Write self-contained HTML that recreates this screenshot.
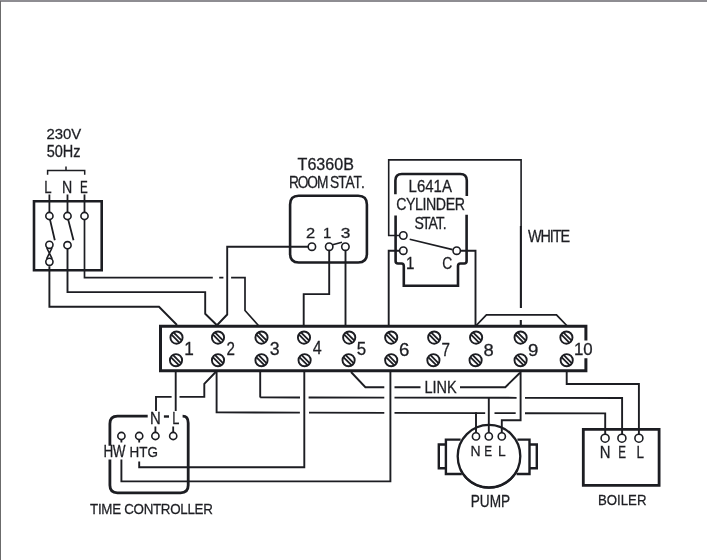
<!DOCTYPE html>
<html><head><meta charset="utf-8"><style>
html,body{margin:0;padding:0;background:#fff;}
body{width:707px;height:560px;overflow:hidden;position:relative;}
svg{position:absolute;left:0;top:0;}
text{font-kerning:none;font-feature-settings:"kern" 0;}
.tx{will-change:transform;}
</style></head><body>
<svg width="707" height="560" viewBox="0 0 707 560">
<rect x="0" y="0" width="707" height="560" fill="#fff"/>
<rect x="0" y="0" width="707" height="2" fill="#8e8d92"/>
<rect x="0" y="1" width="1" height="559" fill="#6b6b6b"/>
<g fill="none" stroke="#1c1d22" stroke-linecap="butt" stroke-linejoin="miter">
<path d="M47.6,174.8 V170.6 H84.7 V174.8 M66,170.6 V166.5" stroke-width="1.5" />
<path d="M34,201.3 H101.7 V270.3 H34 Z" stroke-width="2.6" />
<path d="M49.4,194.5 V212.2 M67.5,194.5 V212.2 M84.5,194.5 V212.2" stroke-width="1.8" />
<circle cx="49.4" cy="216" r="3.6" stroke-width="1.6"/>
<circle cx="67.5" cy="216" r="3.6" stroke-width="1.6"/>
<circle cx="84.5" cy="216" r="3.6" stroke-width="1.6"/>
<path d="M50,219.6 L54.8,240.2 M68.2,219.6 L73.5,240.2" stroke-width="1.8" />
<circle cx="49.4" cy="244.8" r="3.6" stroke-width="1.6"/>
<circle cx="67.5" cy="245.2" r="3.6" stroke-width="1.6"/>
<circle cx="49.4" cy="261.8" r="3.6" stroke-width="1.6"/>
<path d="M46.8,248 L52.2,258.8 M52,248 L46.6,258.8" stroke-width="1.6" />
<path d="M84.5,219.6 V277.6 H212.8 M219.2,277.6 H223.4" stroke-width="1.7" />
<path d="M231.1,277.6 H245 V310.5 L258.4,325.5" stroke-width="1.7" />
<path d="M67.5,248.4 V292.1 H205.2 V313.8 L216.7,325" stroke-width="1.9" />
<path d="M49.4,266.3 V306.8 H159 L177,325" stroke-width="1.9" />
<path d="M298.7,195.8 H358.2 Q366.9,195.8 366.9,204.5 V254 Q366.9,262.5 358.2,262.5 H298.7 Q290.1,262.5 290.1,254 V204.5 Q290.1,195.8 298.7,195.8 Z" stroke-width="2.6" />
<circle cx="311.9" cy="246.7" r="3.7" stroke-width="1.6"/>
<circle cx="329.2" cy="246.7" r="3.7" stroke-width="1.6"/>
<circle cx="345.4" cy="246.7" r="3.7" stroke-width="1.6"/>
<path d="M332.6,244.8 L342,242.2" stroke-width="1.6" />
<path d="M308.2,246.7 H227.2 V314.5 L217.2,325" stroke-width="1.9" />
<path d="M329.2,250.4 V294.1 H303.7 V326" stroke-width="1.9" />
<path d="M345.5,250.4 V326" stroke-width="1.9" />
<path d="M395.4,194.3 V180.5 Q395.4,174 401.9,174 H460.3 Q466.8,174 466.8,180.5 V196" stroke-width="2.6" />
<path d="M395.6,215.5 V261 Q395.6,263.5 398,263.5 H401.5 Q403.8,263.5 403.8,266 V285.7 H458 V266 Q458,263.5 460.4,263.5 H464.2 Q466.6,263.5 466.6,261 V214.7" stroke-width="2.6" />
<circle cx="403.3" cy="235.5" r="3.7" stroke-width="1.6"/>
<circle cx="403.3" cy="250.7" r="3.7" stroke-width="1.6"/>
<circle cx="456.7" cy="250.7" r="3.7" stroke-width="1.6"/>
<path d="M409.7,239.2 L452.6,249.6" stroke-width="1.6" />
<path d="M521.1,226.5 V159.9 H388.7 V235.5 H399.6" stroke-width="1.6" />
<path d="M520.9,226 V308 M520.8,320 V326" stroke-width="2.1" />
<path d="M399.6,250.7 H388.7 V326" stroke-width="1.9" />
<path d="M460.4,250.7 H475.5 V326" stroke-width="1.9" />
<path d="M585.9,340.5 V326.2 H160.5 V370.8 H585.9 V358.3" stroke-width="3.0" />
<circle cx="176.5" cy="337.6" r="6.1" stroke-width="1.9"/>
<line x1="171.26" y1="334.48" x2="179.62" y2="342.84" stroke-width="1.8"/>
<line x1="173.38" y1="332.36" x2="181.74" y2="340.72" stroke-width="1.8"/>
<circle cx="218" cy="337.6" r="6.1" stroke-width="1.9"/>
<line x1="212.76" y1="334.48" x2="221.12" y2="342.84" stroke-width="1.8"/>
<line x1="214.88" y1="332.36" x2="223.24" y2="340.72" stroke-width="1.8"/>
<circle cx="261.5" cy="337.6" r="6.1" stroke-width="1.9"/>
<line x1="256.26" y1="334.48" x2="264.62" y2="342.84" stroke-width="1.8"/>
<line x1="258.38" y1="332.36" x2="266.74" y2="340.72" stroke-width="1.8"/>
<circle cx="304" cy="337.6" r="6.1" stroke-width="1.9"/>
<line x1="298.76" y1="334.48" x2="307.12" y2="342.84" stroke-width="1.8"/>
<line x1="300.88" y1="332.36" x2="309.24" y2="340.72" stroke-width="1.8"/>
<circle cx="349.2" cy="337.6" r="6.1" stroke-width="1.9"/>
<line x1="343.96" y1="334.48" x2="352.32" y2="342.84" stroke-width="1.8"/>
<line x1="346.08" y1="332.36" x2="354.44" y2="340.72" stroke-width="1.8"/>
<circle cx="391.2" cy="337.6" r="6.1" stroke-width="1.9"/>
<line x1="385.96" y1="334.48" x2="394.32" y2="342.84" stroke-width="1.8"/>
<line x1="388.08" y1="332.36" x2="396.44" y2="340.72" stroke-width="1.8"/>
<circle cx="434.2" cy="337.6" r="6.1" stroke-width="1.9"/>
<line x1="428.96" y1="334.48" x2="437.32" y2="342.84" stroke-width="1.8"/>
<line x1="431.08" y1="332.36" x2="439.44" y2="340.72" stroke-width="1.8"/>
<circle cx="476.1" cy="337.6" r="6.1" stroke-width="1.9"/>
<line x1="470.86" y1="334.48" x2="479.22" y2="342.84" stroke-width="1.8"/>
<line x1="472.98" y1="332.36" x2="481.34" y2="340.72" stroke-width="1.8"/>
<circle cx="520.6" cy="337.6" r="6.1" stroke-width="1.9"/>
<line x1="515.36" y1="334.48" x2="523.72" y2="342.84" stroke-width="1.8"/>
<line x1="517.48" y1="332.36" x2="525.84" y2="340.72" stroke-width="1.8"/>
<circle cx="566.4" cy="337.6" r="6.1" stroke-width="1.9"/>
<line x1="561.16" y1="334.48" x2="569.52" y2="342.84" stroke-width="1.8"/>
<line x1="563.28" y1="332.36" x2="571.64" y2="340.72" stroke-width="1.8"/>
<circle cx="176" cy="360.2" r="6.1" stroke-width="1.9"/>
<line x1="170.76" y1="357.08" x2="179.12" y2="365.44" stroke-width="1.8"/>
<line x1="172.88" y1="354.96" x2="181.24" y2="363.32" stroke-width="1.8"/>
<circle cx="218" cy="360.2" r="6.1" stroke-width="1.9"/>
<line x1="212.76" y1="357.08" x2="221.12" y2="365.44" stroke-width="1.8"/>
<line x1="214.88" y1="354.96" x2="223.24" y2="363.32" stroke-width="1.8"/>
<circle cx="261.5" cy="360.2" r="6.1" stroke-width="1.9"/>
<line x1="256.26" y1="357.08" x2="264.62" y2="365.44" stroke-width="1.8"/>
<line x1="258.38" y1="354.96" x2="266.74" y2="363.32" stroke-width="1.8"/>
<circle cx="304.6" cy="360.2" r="6.1" stroke-width="1.9"/>
<line x1="299.36" y1="357.08" x2="307.72" y2="365.44" stroke-width="1.8"/>
<line x1="301.48" y1="354.96" x2="309.84" y2="363.32" stroke-width="1.8"/>
<circle cx="348.6" cy="360.2" r="6.1" stroke-width="1.9"/>
<line x1="343.36" y1="357.08" x2="351.72" y2="365.44" stroke-width="1.8"/>
<line x1="345.48" y1="354.96" x2="353.84" y2="363.32" stroke-width="1.8"/>
<circle cx="391.2" cy="360.2" r="6.1" stroke-width="1.9"/>
<line x1="385.96" y1="357.08" x2="394.32" y2="365.44" stroke-width="1.8"/>
<line x1="388.08" y1="354.96" x2="396.44" y2="363.32" stroke-width="1.8"/>
<circle cx="433.4" cy="360.2" r="6.1" stroke-width="1.9"/>
<line x1="428.16" y1="357.08" x2="436.52" y2="365.44" stroke-width="1.8"/>
<line x1="430.28" y1="354.96" x2="438.64" y2="363.32" stroke-width="1.8"/>
<circle cx="475.6" cy="360.2" r="6.1" stroke-width="1.9"/>
<line x1="470.36" y1="357.08" x2="478.72" y2="365.44" stroke-width="1.8"/>
<line x1="472.48" y1="354.96" x2="480.84" y2="363.32" stroke-width="1.8"/>
<circle cx="520.6" cy="360.2" r="6.1" stroke-width="1.9"/>
<line x1="515.36" y1="357.08" x2="523.72" y2="365.44" stroke-width="1.8"/>
<line x1="517.48" y1="354.96" x2="525.84" y2="363.32" stroke-width="1.8"/>
<circle cx="566.7" cy="360.2" r="6.1" stroke-width="1.9"/>
<line x1="561.46" y1="357.08" x2="569.82" y2="365.44" stroke-width="1.8"/>
<line x1="563.58" y1="354.96" x2="571.94" y2="363.32" stroke-width="1.8"/>
<path d="M476.2,325.5 L486.4,314.9 H556.5 L566.7,325.5" stroke-width="1.8" />
<path d="M175.7,371 V411" stroke-width="1.9" />
<path d="M215.7,372 L204.3,383.9 V396.9 H179.5" stroke-width="1.9" />
<path d="M171.6,396.9 H156 V411" stroke-width="1.9" />
<path d="M216.6,371 V412.40 L299.9,412.62" stroke-width="1.9" />
<path d="M309,412.64 L384.3,412.83 M394.5,412.86 L485.2,413.09 M494.5,413.12 L515.7,413.17 M525,413.19 L605.2,413.40 M605.2,412.50 V434.2" stroke-width="1.9" />
<path d="M260.2,371 V397.40 M260.2,397.40 L300,397.47 M308.6,397.48 L384.3,397.61 M394.5,397.62 L516.6,397.83 M525,397.84 L622.1,398.00 M622.1,397.10 V434.2" stroke-width="1.9" />
<path d="M304.3,371 V467.2 H139.2 V461.5" stroke-width="1.9" />
<path d="M351,372 L365.4,387.2 H384.3 M394.5,387.2 H420.5 M460,387.2 H505.3 L520,372.7" stroke-width="1.9" />
<path d="M390.4,371 V481.4 H121.4 V459.4" stroke-width="1.9" />
<path d="M520.6,371 V420.2 H501.8 V432.8" stroke-width="1.9" />
<path d="M566.7,371 V384 H638.9 V434.0" stroke-width="1.9" />
<path d="M147.7,416.2 H117.5 Q109.9,416.2 109.9,423.8 V445.8 M109.9,459.4 V485.3 Q109.9,492.8 117.4,492.8 H180.6 Q188.2,492.8 188.2,485.3 V423 Q188.2,416.2 182.6,416.2" stroke-width="2.8" />
<path d="M163.9,416.5 H169" stroke-width="2.4" />
<circle cx="121.4" cy="436" r="3.6" stroke-width="1.6"/>
<circle cx="139.2" cy="436" r="3.6" stroke-width="1.6"/>
<circle cx="155.4" cy="436" r="3.6" stroke-width="1.6"/>
<circle cx="173.2" cy="436" r="3.6" stroke-width="1.6"/>
<path d="M121.4,439.6 V442.6 M139.2,439.6 V442.6 M155.4,432.4 V426.5 M173.2,432.4 V426.5" stroke-width="1.8" />
<circle cx="489.0" cy="456.2" r="31.3" stroke-width="2.3"/>
<path d="M517.64,469.55 A31.6,31.6 0 0 1 460.36,469.55" stroke-width="2.0" />
<path d="M460.6,439.6 H445.9 V474 H461.8 M445.9,444.5 H438.8 V468.2 H445.9" stroke-width="2.4" />
<path d="M517.4,439.6 H529.5 V474 H516.6 M529.5,444.5 H536.8 V468.2 H529.5" stroke-width="2.4" />
<circle cx="476.0" cy="436.4" r="3.6" stroke-width="1.6"/>
<circle cx="488.8" cy="436.4" r="3.6" stroke-width="1.6"/>
<circle cx="501.8" cy="436.4" r="3.6" stroke-width="1.6"/>
<path d="M476.0,412.17 V432.8 M488.8,396.88 V432.8" stroke-width="1.9" />
<path d="M583.3,429.3 H659.1 V485.4 H583.3 Z" stroke-width="2.8" />
<circle cx="605.1" cy="438.2" r="4.0" stroke-width="1.6"/>
<circle cx="621.9" cy="438.2" r="4.0" stroke-width="1.6"/>
<circle cx="638.9" cy="438.2" r="4.0" stroke-width="1.6"/>
</g>
<g opacity="0.995">
<text fill="#1c1d22" stroke="#1c1d22" stroke-width="0.28" xml:space="preserve" font-family="Liberation Sans, sans-serif" transform="translate(46.39,139.01) scale(0.967,1)" x="0.00 8.58 17.16 25.73" font-size="15.42">230V</text>
<text fill="#1c1d22" stroke="#1c1d22" stroke-width="0.28" xml:space="preserve" font-family="Liberation Sans, sans-serif" transform="translate(46.66,157.41) scale(0.925,1)" x="0.00 8.73 17.47 28.81" font-size="15.71">50Hz</text>
<text fill="#1c1d22" stroke="#1c1d22" stroke-width="0.28" xml:space="preserve" font-family="Liberation Sans, sans-serif" transform="translate(44.26,193.36) scale(0.809,1)" font-size="16.31">L</text>
<text fill="#1c1d22" stroke="#1c1d22" stroke-width="0.28" xml:space="preserve" font-family="Liberation Sans, sans-serif" transform="translate(61.98,193.36) scale(0.869,1)" font-size="16.31">N</text>
<text fill="#1c1d22" stroke="#1c1d22" stroke-width="0.28" xml:space="preserve" font-family="Liberation Sans, sans-serif" transform="translate(79.98,193.36) scale(0.715,1)" font-size="16.31">E</text>
<text fill="#1c1d22" stroke="#1c1d22" stroke-width="0.28" xml:space="preserve" font-family="Liberation Sans, sans-serif" transform="translate(297.58,169.71) scale(1.024,1)" x="0.00 9.59 18.33 27.06 35.80 44.53" font-size="15.71">T6360B</text>
<text fill="#1c1d22" stroke="#1c1d22" stroke-width="0.28" xml:space="preserve" font-family="Liberation Sans, sans-serif" transform="translate(288.91,188.20) scale(0.860,1)" x="0.00 10.29 21.46 32.64 44.70 47.88 57.28 65.79 75.19 83.70" font-size="15.99">ROOM STAT.</text>
<text fill="#1c1d22" stroke="#1c1d22" stroke-width="0.28" xml:space="preserve" font-family="Liberation Sans, sans-serif" transform="translate(306.11,237.86) scale(1.139,1)" font-size="14.49">2</text>
<text fill="#1c1d22" stroke="#1c1d22" stroke-width="0.28" xml:space="preserve" font-family="Liberation Sans, sans-serif" transform="translate(323.01,237.86) scale(1.033,1)" font-size="14.42">1</text>
<text fill="#1c1d22" stroke="#1c1d22" stroke-width="0.28" xml:space="preserve" font-family="Liberation Sans, sans-serif" transform="translate(340.78,237.92) scale(1.189,1)" font-size="14.58">3</text>
<text fill="#1c1d22" stroke="#1c1d22" stroke-width="0.28" xml:space="preserve" font-family="Liberation Sans, sans-serif" transform="translate(408.61,191.70) scale(0.906,1)" x="0.00 9.21 18.41 27.62 36.83" font-size="16.55">L641A</text>
<text fill="#1c1d22" stroke="#1c1d22" stroke-width="0.28" xml:space="preserve" font-family="Liberation Sans, sans-serif" transform="translate(396.22,209.80) scale(0.860,1)" x="0.00 11.43 21.94 30.62 34.69 46.11 57.54 68.05" font-size="16.55">CYLINDER</text>
<text fill="#1c1d22" stroke="#1c1d22" stroke-width="0.28" xml:space="preserve" font-family="Liberation Sans, sans-serif" transform="translate(414.50,228.70) scale(0.860,1)" x="0.00 8.67 16.42 25.09 32.84" font-size="16.27">STAT.</text>
<text fill="#1c1d22" stroke="#1c1d22" stroke-width="0.28" xml:space="preserve" font-family="Liberation Sans, sans-serif" transform="translate(405.89,268.76) scale(0.927,1)" font-size="16.31">1</text>
<text fill="#1c1d22" stroke="#1c1d22" stroke-width="0.28" xml:space="preserve" font-family="Liberation Sans, sans-serif" transform="translate(442.33,268.80) scale(0.849,1)" font-size="16.41">C</text>
<text fill="#1c1d22" stroke="#1c1d22" stroke-width="0.28" xml:space="preserve" font-family="Liberation Sans, sans-serif" transform="translate(527.98,241.66) scale(0.860,1)" x="0.00 14.59 25.46 28.89 37.90" font-size="16.74">WHITE</text>
<text fill="#1c1d22" stroke="#1c1d22" stroke-width="0.28" xml:space="preserve" font-family="Liberation Sans, sans-serif" transform="translate(184.33,354.66) scale(0.985,1)" font-size="17.47">1</text>
<text fill="#1c1d22" stroke="#1c1d22" stroke-width="0.28" xml:space="preserve" font-family="Liberation Sans, sans-serif" transform="translate(226.48,354.56) scale(0.861,1)" font-size="17.64">2</text>
<text fill="#1c1d22" stroke="#1c1d22" stroke-width="0.28" xml:space="preserve" font-family="Liberation Sans, sans-serif" transform="translate(269.86,355.48) scale(0.981,1)" font-size="18.11">3</text>
<text fill="#1c1d22" stroke="#1c1d22" stroke-width="0.28" xml:space="preserve" font-family="Liberation Sans, sans-serif" transform="translate(312.87,354.36) scale(0.915,1)" font-size="17.62">4</text>
<text fill="#1c1d22" stroke="#1c1d22" stroke-width="0.28" xml:space="preserve" font-family="Liberation Sans, sans-serif" transform="translate(356.86,355.19) scale(0.966,1)" font-size="17.51">5</text>
<text fill="#1c1d22" stroke="#1c1d22" stroke-width="0.28" xml:space="preserve" font-family="Liberation Sans, sans-serif" transform="translate(398.89,356.18) scale(1.040,1)" font-size="17.97">6</text>
<text fill="#1c1d22" stroke="#1c1d22" stroke-width="0.28" xml:space="preserve" font-family="Liberation Sans, sans-serif" transform="translate(441.46,356.16) scale(0.864,1)" font-size="17.62">7</text>
<text fill="#1c1d22" stroke="#1c1d22" stroke-width="0.28" xml:space="preserve" font-family="Liberation Sans, sans-serif" transform="translate(483.44,355.60) scale(1.091,1)" font-size="16.84">8</text>
<text fill="#1c1d22" stroke="#1c1d22" stroke-width="0.28" xml:space="preserve" font-family="Liberation Sans, sans-serif" transform="translate(528.07,355.60) scale(1.157,1)" font-size="16.13">9</text>
<text fill="#1c1d22" stroke="#1c1d22" stroke-width="0.28" xml:space="preserve" font-family="Liberation Sans, sans-serif" transform="translate(573.96,355.30) scale(1.055,1)" x="0.00 8.89" font-size="15.99">10</text>
<text fill="#1c1d22" stroke="#1c1d22" stroke-width="0.28" xml:space="preserve" font-family="Liberation Sans, sans-serif" transform="translate(424.45,392.86) scale(0.932,1)" x="0.00 8.67 12.99 24.25" font-size="15.58">LINK</text>
<text fill="#1c1d22" stroke="#1c1d22" stroke-width="0.28" xml:space="preserve" font-family="Liberation Sans, sans-serif" transform="translate(149.92,423.66) scale(0.947,1)" font-size="15.73">N</text>
<text fill="#1c1d22" stroke="#1c1d22" stroke-width="0.28" xml:space="preserve" font-family="Liberation Sans, sans-serif" transform="translate(172.29,423.66) scale(0.810,1)" font-size="15.73">L</text>
<text fill="#1c1d22" stroke="#1c1d22" stroke-width="0.28" xml:space="preserve" font-family="Liberation Sans, sans-serif" transform="translate(103.43,456.76) scale(0.860,1)" x="0.00 10.94" font-size="15.73">HW</text>
<text fill="#1c1d22" stroke="#1c1d22" stroke-width="0.28" xml:space="preserve" font-family="Liberation Sans, sans-serif" transform="translate(129.44,456.61) scale(0.881,1)" x="0.00 11.04 20.37" font-size="15.28">HTG</text>
<text fill="#1c1d22" stroke="#1c1d22" stroke-width="0.28" xml:space="preserve" font-family="Liberation Sans, sans-serif" transform="translate(90.04,514.01) scale(0.860,1)" x="0.00 9.15 13.11 25.72 35.74 39.70 50.58 62.33 73.21 82.36 93.24 104.98 113.28 121.58 131.60" font-size="15.56">TIME CONTROLLER</text>
<text fill="#1c1d22" stroke="#1c1d22" stroke-width="0.28" xml:space="preserve" font-family="Liberation Sans, sans-serif" transform="translate(470.49,456.16) scale(0.942,1)" font-size="14.85">N</text>
<text fill="#1c1d22" stroke="#1c1d22" stroke-width="0.28" xml:space="preserve" font-family="Liberation Sans, sans-serif" transform="translate(484.37,456.16) scale(0.797,1)" font-size="14.85">E</text>
<text fill="#1c1d22" stroke="#1c1d22" stroke-width="0.28" xml:space="preserve" font-family="Liberation Sans, sans-serif" transform="translate(498.00,456.16) scale(0.934,1)" font-size="14.85">L</text>
<text fill="#1c1d22" stroke="#1c1d22" stroke-width="0.28" xml:space="preserve" font-family="Liberation Sans, sans-serif" transform="translate(470.72,507.01) scale(0.865,1)" x="0.00 10.53 21.94 35.10" font-size="15.79">PUMP</text>
<text fill="#1c1d22" stroke="#1c1d22" stroke-width="0.28" xml:space="preserve" font-family="Liberation Sans, sans-serif" transform="translate(599.72,458.26) scale(0.905,1)" font-size="16.45">N</text>
<text fill="#1c1d22" stroke="#1c1d22" stroke-width="0.28" xml:space="preserve" font-family="Liberation Sans, sans-serif" transform="translate(618.28,458.26) scale(0.709,1)" font-size="16.45">E</text>
<text fill="#1c1d22" stroke="#1c1d22" stroke-width="0.28" xml:space="preserve" font-family="Liberation Sans, sans-serif" transform="translate(636.44,458.26) scale(0.816,1)" font-size="16.45">L</text>
<text fill="#1c1d22" stroke="#1c1d22" stroke-width="0.28" xml:space="preserve" font-family="Liberation Sans, sans-serif" transform="translate(597.95,505.41) scale(0.866,1)" x="0.00 10.19 22.08 26.33 34.83 45.02" font-size="15.28">BOILER</text>
</g>
</svg>
</body></html>
